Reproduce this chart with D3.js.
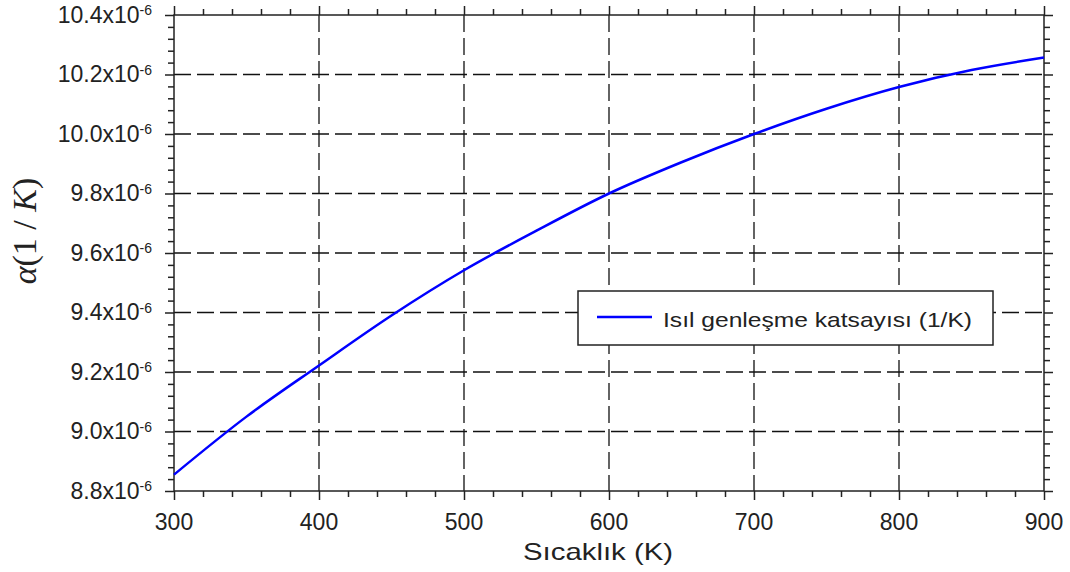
<!DOCTYPE html>
<html>
<head>
<meta charset="utf-8">
<script src="https://d3js.org/d3.v7.min.js"></script>
<style>
  body { margin: 0; background: #fff; }
  svg { display: block; }
</style>
</head>
<body>
<div id="divChart"></div>
<script>
// values
// temperature (K) and thermal expansion coefficient (x1e-6 1/K)
var temps = [300, 350, 400, 450, 500, 550, 600, 650, 700, 750, 800, 850, 900]
var alphaVals = [8.855, 9.05, 9.222, 9.39, 9.542, 9.675, 9.80, 9.905, 10.0, 10.085, 10.158, 10.215, 10.257]

var xTicks = [300, 400, 500, 600, 700, 800, 900]
var yTicks = [8.8, 9.0, 9.2, 9.4, 9.6, 9.8, 10.0, 10.2, 10.4]
var yTickLabels = ['8.8', '9.0', '9.2', '9.4', '9.6', '9.8', '10.0', '10.2', '10.4']
var seriesName = 'Isıl genleşme katsayısı (1/K)'
var xTitle = 'Sıcaklık (K)'

// layout settings
var chart = {}
chart.margin = { top: 15, right: 26, bottom: 81, left: 174 }
chart.width = 1070 - chart.margin.left - chart.margin.right
chart.height = 572 - chart.margin.top - chart.margin.bottom
chart.font = '"Liberation Sans", Arial, sans-serif'
chart.major = 9
chart.minor = 6

chart.xScale = d3.scaleLinear().domain([300, 900]).range([0, chart.width])
chart.yScale = d3.scaleLinear().domain([8.8, 10.4]).range([chart.height, 0])

var xMinor = d3.range(300, 901, 20).filter(function (d) { return d % 100 !== 0 })
var yMinor = d3.range(0, 41).map(function (i) { return 8.8 + i * 0.04 }).filter(function (d, i) { return i % 5 !== 0 })

var svg = d3.select('#divChart')
  .append('svg')
  .attr('width', 1070)
  .attr('height', 572)

var g = svg.append('g')
  .attr('transform', 'translate(' + chart.margin.left + ',' + chart.margin.top + ')')

// dashed grid at the inner major ticks
g.append('g')
  .selectAll('line')
  .data(xTicks.slice(1, -1))
  .enter()
  .append('line')
  .attr('x1', function (d) { return chart.xScale(d) })
  .attr('x2', function (d) { return chart.xScale(d) })
  .attr('y1', 0)
  .attr('y2', chart.height)
  .attr('stroke', '#111')
  .attr('stroke-width', 1.3)
  .attr('stroke-dasharray', '17,6')
g.append('g')
  .selectAll('line')
  .data(yTicks.slice(1, -1))
  .enter()
  .append('line')
  .attr('x1', 0)
  .attr('x2', chart.width)
  .attr('y1', function (d) { return chart.yScale(d) })
  .attr('y2', function (d) { return chart.yScale(d) })
  .attr('stroke', '#111')
  .attr('stroke-width', 1.3)
  .attr('stroke-dasharray', '17,6')

// axes on all four sides, major and minor ticks pointing outward
function styleAxis (sel) {
  sel.selectAll('.domain').remove()
  sel.selectAll('line').attr('stroke', '#222').attr('stroke-width', 1.5)
}
var axes = [
  { axis: d3.axisBottom, tr: 'translate(0,' + chart.height + ')', scale: chart.xScale, maj: xTicks, min: xMinor },
  { axis: d3.axisTop, tr: 'translate(0,0)', scale: chart.xScale, maj: xTicks, min: xMinor },
  { axis: d3.axisLeft, tr: 'translate(0,0)', scale: chart.yScale, maj: yTicks, min: yMinor },
  { axis: d3.axisRight, tr: 'translate(' + chart.width + ',0)', scale: chart.yScale, maj: yTicks, min: yMinor }
]
axes.forEach(function (a) {
  g.append('g').attr('transform', a.tr)
    .call(a.axis(a.scale).tickValues(a.maj).tickSize(chart.major).tickFormat(''))
    .call(styleAxis)
  g.append('g').attr('transform', a.tr)
    .call(a.axis(a.scale).tickValues(a.min).tickSize(chart.minor).tickFormat(''))
    .call(styleAxis)
})

// frame
g.append('rect')
  .attr('width', chart.width)
  .attr('height', chart.height)
  .attr('fill', 'none')
  .attr('stroke', '#222')
  .attr('stroke-width', 1.5)

// x tick labels
g.append('g')
  .selectAll('text')
  .data(xTicks)
  .enter()
  .append('text')
  .attr('x', function (d) { return chart.xScale(d) })
  .attr('y', chart.height + 39)
  .attr('text-anchor', 'middle')
  .attr('font-family', chart.font)
  .attr('font-size', 23)
  .attr('fill', '#222')
  .text(function (d) { return d })

// y tick labels like 9.0x10^-6
var yLab = g.append('g')
  .selectAll('text')
  .data(yTicks)
  .enter()
  .append('text')
  .attr('x', -22)
  .attr('y', function (d) { return chart.yScale(d) + 7.5 })
  .attr('text-anchor', 'end')
  .attr('font-family', chart.font)
  .attr('font-size', 23)
  .attr('fill', '#222')
yLab.append('tspan')
  .text(function (d, i) { return yTickLabels[i] + 'x10' })
yLab.append('tspan')
  .attr('dy', -7.5)
  .attr('font-size', 14)
  .text('-6')

// line
var line = d3.line()
  .x(function (d, i) { return chart.xScale(temps[i]) })
  .y(function (d) { return chart.yScale(d) })
  .curve(d3.curveMonotoneX)
g.append('path')
  .datum(alphaVals)
  .attr('d', line)
  .attr('fill', 'none')
  .attr('stroke', '#0000ff')
  .attr('stroke-width', 2.5)

// legend
var legend = svg.append('g').attr('transform', 'translate(578,291)')
legend.append('rect')
  .attr('width', 415)
  .attr('height', 54)
  .attr('fill', '#fff')
  .attr('stroke', '#222')
  .attr('stroke-width', 1.5)
legend.append('line')
  .attr('x1', 19)
  .attr('x2', 74)
  .attr('y1', 26)
  .attr('y2', 26)
  .attr('stroke', '#0000ff')
  .attr('stroke-width', 2.5)
legend.append('text')
  .attr('x', 85)
  .attr('y', 35.5)
  .attr('font-family', chart.font)
  .attr('font-size', 21)
  .attr('fill', '#222')
  .attr('textLength', 309)
  .attr('lengthAdjust', 'spacingAndGlyphs')
  .text(seriesName)

// axis titles
svg.append('text')
  .attr('x', 598)
  .attr('y', 560)
  .attr('text-anchor', 'middle')
  .attr('font-family', chart.font)
  .attr('font-size', 24)
  .attr('fill', '#222')
  .attr('textLength', 150)
  .attr('lengthAdjust', 'spacingAndGlyphs')
  .text(xTitle)

var yTitle = svg.append('text')
  .attr('transform', 'translate(36,231) rotate(-90)')
  .attr('text-anchor', 'middle')
  .attr('font-family', '"Liberation Serif", "Times New Roman", serif')
  .attr('font-size', 34)
  .attr('fill', '#222')
yTitle.append('tspan').attr('font-style', 'italic').text('α')
yTitle.append('tspan').text('(1 / ')
yTitle.append('tspan').attr('font-style', 'italic').text('K')
yTitle.append('tspan').text(')')
</script>
</body>
</html>
